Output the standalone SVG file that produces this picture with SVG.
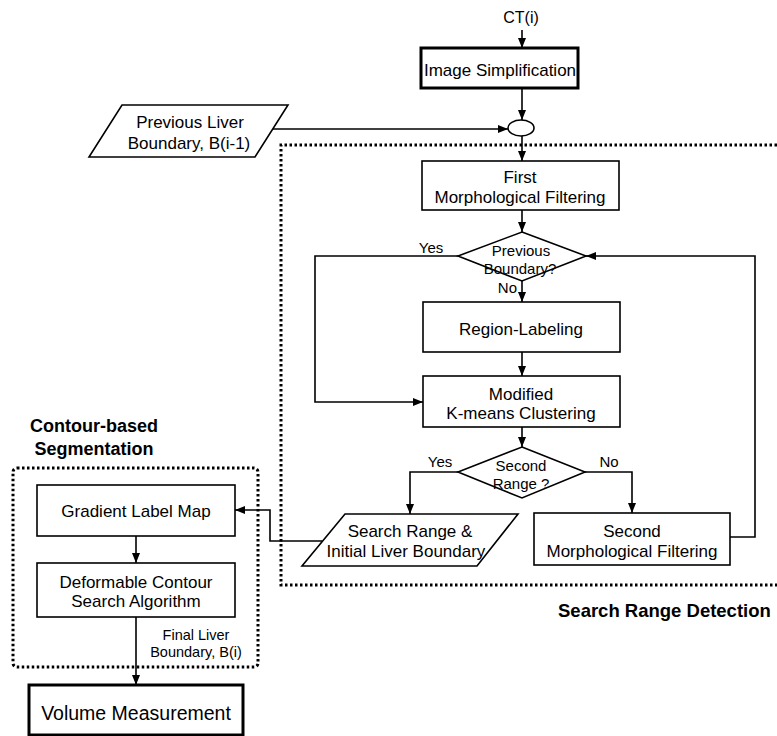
<svg xmlns="http://www.w3.org/2000/svg" width="777" height="736" viewBox="0 0 777 736">
<style>
.box{fill:#fff;stroke:#000;stroke-width:1.6}
.thick{stroke-width:3}
.t{font-family:"Liberation Sans",Arial,sans-serif;font-size:17px;text-anchor:middle;fill:#000}
.s{font-size:15px}
.b{font-weight:bold;font-size:18px}
.conn{fill:none;stroke:#000;stroke-width:1.6}
.dot{fill:none;stroke:#000;stroke-width:3;stroke-dasharray:2.5 2.5}
</style>
<defs>
<marker id="arr" markerUnits="userSpaceOnUse" markerWidth="10" markerHeight="8" refX="10" refY="4" orient="auto">
<path d="M0,0 L10,4 L0,8 z" fill="#000"/>
</marker>
</defs>
<rect width="777" height="736" fill="#fff"/>

<g id="region-search">
<path class="dot" d="M777,145 H281 V585 H777"/>
<text class="t b" x="558" y="617" style="text-anchor:start;font-size:18.5px">Search Range Detection</text>
</g>
<g id="region-contour">
<rect class="dot" x="13" y="468" width="245" height="199" rx="4"/>
<text class="t b" x="94" y="432">Contour-based</text>
<text class="t b" x="94" y="455">Segmentation</text>
</g>

<g id="connectors">
<path class="conn" d="M522,30 V48" marker-end="url(#arr)"/>
<path class="conn" d="M522,88 V120" marker-end="url(#arr)"/>
<path class="conn" d="M271,129 H508" marker-end="url(#arr)"/>
<path class="conn" d="M522,136 V161" marker-end="url(#arr)"/>
<path class="conn" d="M522,210 V232" marker-end="url(#arr)"/>
<path class="conn" d="M458,256 H315 V402 H423" marker-end="url(#arr)"/>
<path class="conn" d="M522,281 V302" marker-end="url(#arr)"/>
<path class="conn" d="M522,352 V376" marker-end="url(#arr)"/>
<path class="conn" d="M522,427 V447" marker-end="url(#arr)"/>
<path class="conn" d="M458,472 H410 V514" marker-end="url(#arr)"/>
<path class="conn" d="M585,472 H632 V513" marker-end="url(#arr)"/>
<path class="conn" d="M730,537 H755 V256 H586" marker-end="url(#arr)"/>
<path class="conn" d="M322,541 H270 V510 H235" marker-end="url(#arr)"/>
<path class="conn" d="M136,536 V563" marker-end="url(#arr)"/>
<path class="conn" d="M136,617 V685" marker-end="url(#arr)"/>
</g>

<g id="ct">
<text class="t" x="521" y="23" style="font-size:16px">CT(i)</text>
</g>
<g id="image-simplification">
<rect class="box thick" x="421" y="48" width="157" height="40"/>
<text class="t" x="500" y="76">Image Simplification</text>
</g>
<g id="merge">
<ellipse class="box" cx="521" cy="128" rx="13" ry="8"/>
</g>
<g id="prev-boundary">
<polygon class="box" points="122,105 288,105 255,157 89,157"/>
<text class="t" x="190" y="128">Previous Liver</text>
<text class="t" x="189" y="149">Boundary, B(i-1)</text>
</g>
<g id="first-morph">
<rect class="box" x="422" y="161" width="197" height="49"/>
<text class="t" x="520" y="183">First</text>
<text class="t" x="520" y="203">Morphological Filtering</text>
</g>
<g id="prev-decision">
<polygon class="box" points="522,232 586,256 522,281 458,256"/>
<text class="t s" x="521" y="256">Previous</text>
<text class="t s" x="520" y="274">Boundary?</text>
<text class="t s" x="431" y="253">Yes</text>
<text class="t s" x="517" y="293" style="text-anchor:end">No</text>
</g>
<g id="region-labeling">
<rect class="box" x="423" y="302" width="197" height="50"/>
<text class="t" x="521" y="335">Region-Labeling</text>
</g>
<g id="kmeans">
<rect class="box" x="423" y="376" width="197" height="51"/>
<text class="t" x="521" y="400">Modified</text>
<text class="t" x="521" y="419">K-means Clustering</text>
</g>
<g id="second-decision">
<polygon class="box" points="522,447 585,472 522,498 458,472"/>
<text class="t s" x="521" y="471">Second</text>
<text class="t s" x="521" y="489">Range ?</text>
<text class="t s" x="440" y="467">Yes</text>
<text class="t s" x="609" y="467">No</text>
</g>
<g id="search-range">
<polygon class="box" points="345,514 518,514 477,566 302,566"/>
<text class="t" x="410" y="537">Search Range &amp;</text>
<text class="t" x="406" y="557">Initial Liver Boundary</text>
</g>
<g id="second-morph">
<rect class="box" x="534" y="513" width="196" height="52"/>
<text class="t" x="632" y="537">Second</text>
<text class="t" x="632" y="557">Morphological Filtering</text>
</g>
<g id="gradient">
<rect class="box" x="37" y="485" width="198" height="51"/>
<text class="t" x="136" y="517">Gradient Label Map</text>
</g>
<g id="deformable">
<rect class="box" x="37" y="563" width="198" height="54"/>
<text class="t" x="136" y="588">Deformable Contour</text>
<text class="t" x="136" y="607">Search Algorithm</text>
<text class="t" x="196" y="640" style="font-size:14.5px">Final Liver</text>
<text class="t" x="196" y="657" style="font-size:14.5px">Boundary, B(i)</text>
</g>
<g id="volume">
<rect class="box thick" x="29" y="685" width="214" height="50"/>
<text class="t" x="136" y="720" style="font-size:19.5px">Volume Measurement</text>
</g>
</svg>
